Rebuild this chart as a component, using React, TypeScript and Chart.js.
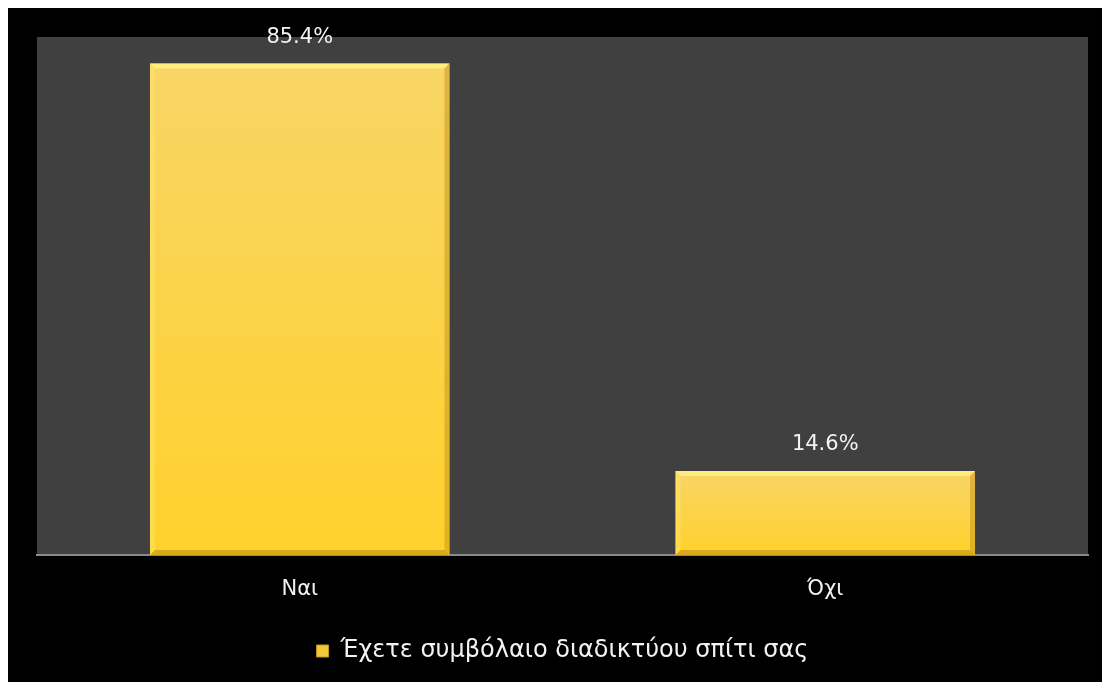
import React, { useEffect, useRef } from "react";
import { Chart, registerables } from "chart.js";

Chart.register(...registerables);

const categories: string[] = ["Ναι", "Όχι"];
const seriesLabel = "Έχετε συμβόλαιο διαδικτύου σπίτι σας";
const seriesValues: number[] = [85.4, 14.6];
const valueLabels: string[] = ["85.4%", "14.6%"];

const FONT = "'DejaVu Sans', 'Noto Sans', sans-serif";

const plotBgPlugin = {
  id: "plotBg",
  beforeDraw(chart: any) {
    const { ctx, chartArea } = chart;
    if (!chartArea) return;
    ctx.save();
    ctx.fillStyle = "#404040";
    ctx.fillRect(chartArea.left, chartArea.top, chartArea.right - chartArea.left, chartArea.bottom - chartArea.top);
    ctx.restore();
  },
};

const bevelPlugin = {
  id: "bevel",
  afterDatasetsDraw(chart: any) {
    const { ctx } = chart;
    const meta = chart.getDatasetMeta(0);
    const b = 5;
    meta.data.forEach((el: any, i: number) => {
      const { x, y, base, width } = el.getProps(["x", "y", "base", "width"], true);
      const l = x - width / 2;
      const r = x + width / 2;
      const t = Math.min(y, base);
      const bt = Math.max(y, base);
      ctx.save();
      // top
      ctx.fillStyle = "rgba(255,240,130,0.85)";
      ctx.beginPath();
      ctx.moveTo(l, t); ctx.lineTo(r, t); ctx.lineTo(r - b, t + b); ctx.lineTo(l + b, t + b); ctx.closePath(); ctx.fill();
      // left
      ctx.fillStyle = "rgba(255,230,110,0.45)";
      ctx.beginPath();
      ctx.moveTo(l, t); ctx.lineTo(l + b, t + b); ctx.lineTo(l + b, bt - b); ctx.lineTo(l, bt); ctx.closePath(); ctx.fill();
      // right
      ctx.fillStyle = "rgba(190,140,20,0.45)";
      ctx.beginPath();
      ctx.moveTo(r, t); ctx.lineTo(r - b, t + b); ctx.lineTo(r - b, bt - b); ctx.lineTo(r, bt); ctx.closePath(); ctx.fill();
      // bottom
      ctx.fillStyle = "rgba(170,120,10,0.45)";
      ctx.beginPath();
      ctx.moveTo(l, bt); ctx.lineTo(l + b, bt - b); ctx.lineTo(r - b, bt - b); ctx.lineTo(r, bt); ctx.closePath(); ctx.fill();
      // value label
      ctx.fillStyle = "#f2f2f2";
      ctx.font = `21px ${FONT}`;
      ctx.textAlign = "center";
      ctx.textBaseline = "middle";
      ctx.fillText(valueLabels[i], x, t - 26);
      ctx.restore();
    });
  },
};

export default function App() {
  const canvasRef = useRef<HTMLCanvasElement | null>(null);

  useEffect(() => {
    document.body.style.overflow = "hidden";
    document.documentElement.style.overflow = "hidden";
    const canvas = canvasRef.current;
    if (!canvas) return;
    const chart = new Chart(canvas, {
      type: "bar",
      data: {
        labels: categories,
        datasets: [
          {
            label: seriesLabel,
            data: seriesValues,
            backgroundColor: (c: any) => {
              const ch = c.chart;
              const ys = ch.scales && ch.scales.y;
              if (!ys || c.dataIndex === undefined || c.raw === undefined) return "#FFD130";
              const top = ys.getPixelForValue(c.raw as number);
              const bottom = ys.getPixelForValue(0);
              if (!isFinite(top) || !isFinite(bottom) || top === bottom) return "#FFD130";
              const g = ch.ctx.createLinearGradient(0, top, 0, bottom);
              g.addColorStop(0, "#F8D566");
              g.addColorStop(1, "#FFD12C");
              return g;
            },
            borderWidth: 0,
            categoryPercentage: 1,
            barPercentage: 0.57,
          },
        ],
      },
      options: {
        responsive: false,
        animation: false,
        maintainAspectRatio: false,
        layout: { padding: { left: 29, right: 22, top: 29, bottom: 9 } },
        plugins: {
          tooltip: { enabled: false },
          legend: {
            display: true,
            position: "bottom",
            labels: {
              color: "#f2f2f2",
              font: { family: FONT, size: 24 },
              boxWidth: 12,
              boxHeight: 12,
              padding: 10,
              generateLabels: () => [
                {
                  text: seriesLabel,
                  fillStyle: "#F0C838",
                  strokeStyle: "#C09A20",
                  lineWidth: 1,
                  fontColor: "#f2f2f2",
                  datasetIndex: 0,
                  hidden: false,
                },
              ],
            },
          },
        },
        scales: {
          x: {
            grid: { display: false, drawTicks: false },
            border: { display: true, color: "#8a8a8a", width: 2 },
            ticks: { color: "#f2f2f2", font: { family: FONT, size: 21 }, padding: 22 },
            afterFit: (s: any) => {
              s.height = 74;
            },
          },
          y: { display: false, min: 0, max: 90 },
        },
      },
      plugins: [plotBgPlugin, bevelPlugin],
    });
    return () => chart.destroy();
  }, []);

  return (
    <div style={{ width: 1102, height: 674, background: "#000" }}>
      <canvas ref={canvasRef} width={1102} height={674} style={{ display: "block" }} />
    </div>
  );
}
